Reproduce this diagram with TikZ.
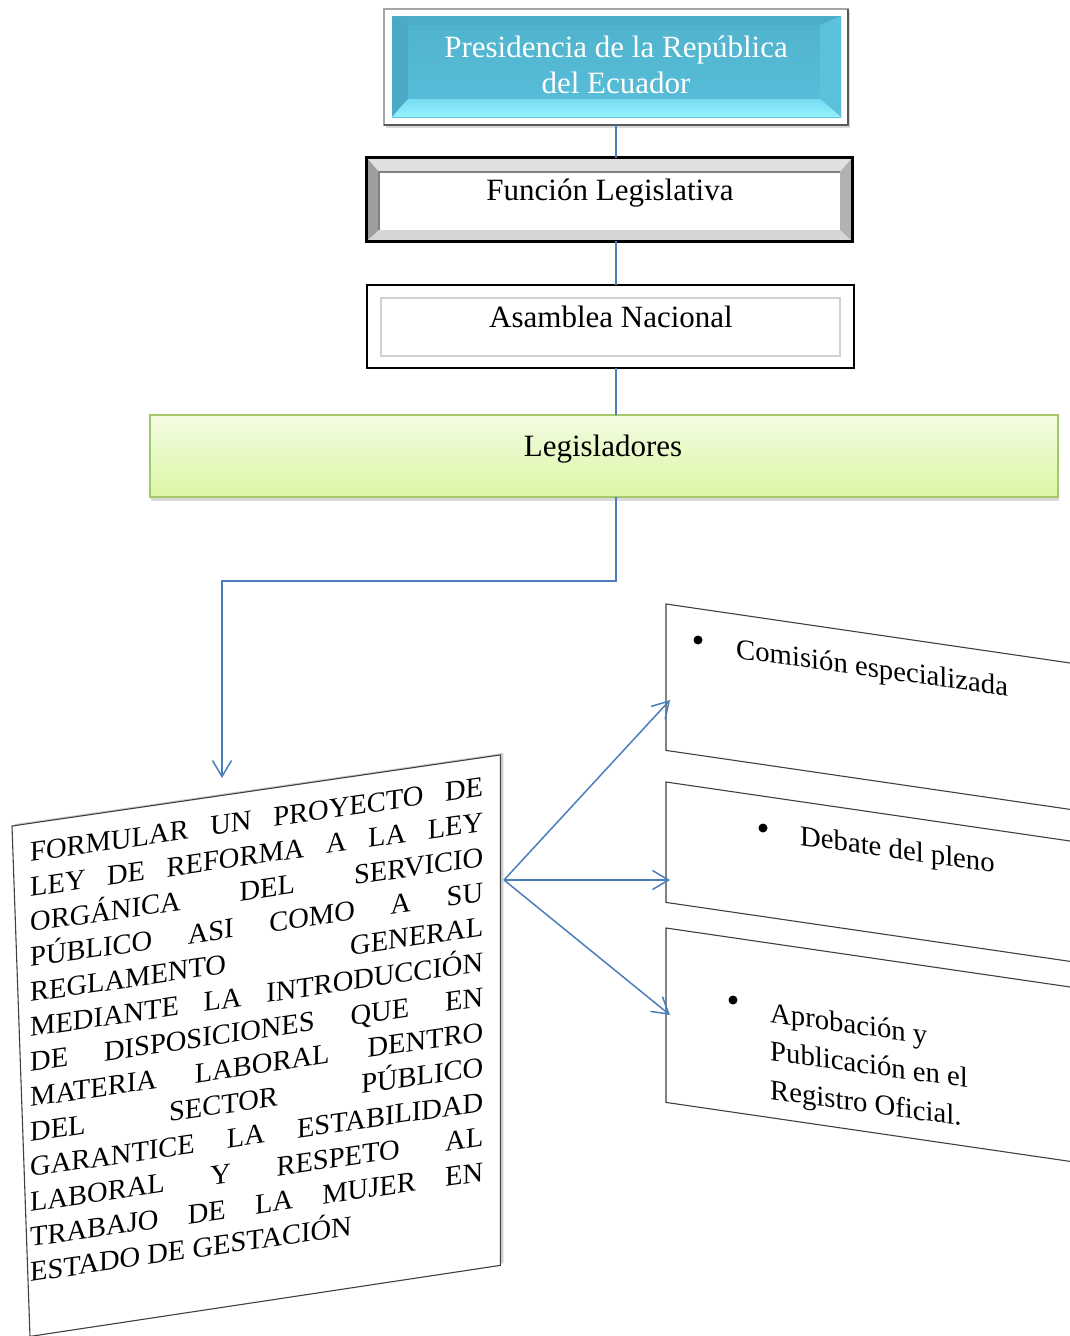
\documentclass[tikz,border=0pt]{standalone}
\usepackage{fontspec}
\setmainfont{Liberation Serif}
\usetikzlibrary{arrows.meta,shadows,calc}
\definecolor{connblue}{HTML}{4A7EBB}
\definecolor{lgTop}{HTML}{F3FBE2}
\definecolor{lgBot}{HTML}{DAF7A4}
\definecolor{lgBorder}{HTML}{A6C86C}
\definecolor{cyFace}{HTML}{50B3CE}
\definecolor{cyFaceB}{HTML}{58BED9}
\definecolor{cyTop}{HTML}{4DACC7}
\definecolor{cyLeft}{HTML}{4BA9C5}
\definecolor{cyRight}{HTML}{5CC2DB}
\definecolor{cyBotA}{HTML}{78DBF0}
\definecolor{cyBotB}{HTML}{95F3FF}
\begin{document}
\begin{tikzpicture}[x=1pt,y=-1pt,
  conn/.style={draw=connblue, line width=1.5pt},
  arr/.style={conn, -{Straight Barb[length=16pt,width=19pt]}},
  lbl/.style={inner sep=0pt, font=\fontsize{31}{36}\selectfont},
  leftline/.style={anchor=base west, inner sep=0pt, yslant=0.1455, font=\fontsize{28.5}{35}\selectfont},
  rtext/.style={anchor=base west, inner sep=0pt, yslant=-0.14, font=\fontsize{28.7}{35}\selectfont},
  dot/.style={circle, fill=black, inner sep=0pt, minimum size=9pt},
  rbox/.style={anchor=north west, inner sep=0pt, yslant=-0.146, minimum width=404pt},
  boxline/.style={draw=black!75, line width=1.1pt},
  plainbox/.style={inner sep=0pt}]
\useasboundingbox (0,0) rectangle (1070,1336);

% ---------- Presidencia ----------
\node (pres) [plainbox, minimum width=464pt, minimum height=116pt] at (616,67) {};
\path[fill=white, drop shadow={shadow xshift=2pt, shadow yshift=-3pt, opacity=0.3}]
  (pres.north west) rectangle (pres.south east);
\draw[black!35, line width=1.5pt] (pres.north west) rectangle (pres.south east);
\draw[black!65, line width=1.8pt] (pres.north east) -- (pres.south east) -- (pres.south west);
\shade[top color=cyFace, bottom color=cyFaceB] (392,16) rectangle (841,117);
\fill[cyTop]   (392,16) -- (841,16) -- (820,25) -- (408,25) -- cycle;
\fill[cyLeft]  (392,16) -- (408,25) -- (408,99) -- (392,117) -- cycle;
\fill[cyRight] (841,16) -- (820,25) -- (820,99) -- (841,117) -- cycle;
\shade[top color=cyBotA, bottom color=cyBotB] (392,117) -- (408,99) -- (820,99) -- (841,117) -- cycle;
\node (prestxt) [lbl, text=white, align=center] at (616,64.5) {Presidencia de la República\\del Ecuador};

% ---------- Funcion Legislativa ----------
\node (func) [plainbox, minimum width=485pt, minimum height=83pt] at (609.5,199.5) {};
\fill[black!12] (367,158) -- (852,158) -- (840,172) -- (379,172) -- cycle;
\fill[black!38] (367,158) -- (379,172) -- (379,230) -- (367,241) -- cycle;
\fill[black!16] (367,241) -- (379,230) -- (840,230) -- (852,241) -- cycle;
\fill[black!30] (852,158) -- (840,172) -- (840,230) -- (852,241) -- cycle;
\fill[white] (379,172) rectangle (840,230);
\draw[black!50, line width=1.2pt] (379,230) -- (379,172) -- (840,172);
\draw[black, line width=3pt] (func.north west) rectangle (func.south east);
\node (functxt) [lbl] at (610,193) {Función Legislativa};

% ---------- Asamblea Nacional ----------
\node (asam) [plainbox, minimum width=487pt, minimum height=83pt] at (610.5,326.5) {};
\draw[black, line width=2.5pt] (asam.north west) rectangle (asam.south east);
\draw[black!18, line width=1.5pt] (381,298) rectangle (840,356);
\node (asamtxt) [lbl] at (611,317) {Asamblea Nacional};

% ---------- Legisladores ----------
\node (leg) [plainbox, minimum width=908pt, minimum height=82pt] at (604,456) {};
\path[top color=lgTop, bottom color=lgBot, draw=lgBorder, line width=2pt,
  drop shadow={shadow xshift=1pt, shadow yshift=-4pt, opacity=0.3}]
  (leg.north west) rectangle (leg.south east);
\node (legtxt) [lbl] at (603,449) {Legisladores};

% ---------- vertical connectors ----------
\draw[conn] (pres.south) -- (pres.south |- func.north);
\draw[conn] (pres.south |- func.south) -- (pres.south |- asam.north);
\draw[conn] (pres.south |- asam.south) -- (pres.south |- leg.north);

% ---------- proposal box ----------
\node (prop) [plainbox, anchor=north west, yslant=0.1455, minimum width=488pt, minimum height=510pt] at (12,826) {};
\path[fill=white, draw=black!75, line width=1.1pt,
  drop shadow={shadow xshift=3pt, shadow yshift=2pt, opacity=0.4}]
  (prop.north west) -- (prop.north east) -- (prop.south east) -- ([xshift=18pt]prop.south west) -- cycle;

\coordinate (elbow) at (222,581);
\coordinate (arrtip) at (222,778);
\draw[arr] (pres.south |- leg.south) |- (elbow) -- (arrtip);

\node (l0)  [leftline] at (30,862) {\makebox[453pt][s]{FORMULAR UN PROYECTO DE}};
\node (l1)  [leftline] at (30,897) {\makebox[453pt][s]{LEY DE REFORMA A LA LEY}};
\node (l2)  [leftline] at (30,932) {\makebox[453pt][s]{ORGÁNICA DEL SERVICIO}};
\node (l3)  [leftline] at (30,967) {\makebox[453pt][s]{PÚBLICO ASI COMO A SU}};
\node (l4)  [leftline] at (30,1002) {\makebox[453pt][s]{REGLAMENTO GENERAL}};
\node (l5)  [leftline] at (30,1037) {\makebox[453pt][s]{MEDIANTE LA INTRODUCCIÓN}};
\node (l6)  [leftline] at (30,1072) {\makebox[453pt][s]{DE DISPOSICIONES QUE EN}};
\node (l7)  [leftline] at (30,1107) {\makebox[453pt][s]{MATERIA LABORAL DENTRO}};
\node (l8)  [leftline] at (30,1142) {\makebox[453pt][s]{DEL SECTOR PÚBLICO}};
\node (l9)  [leftline] at (30,1177) {\makebox[453pt][s]{GARANTICE LA ESTABILIDAD}};
\node (l10) [leftline] at (30,1212) {\makebox[453pt][s]{LABORAL Y RESPETO AL}};
\node (l11) [leftline] at (30,1247) {\makebox[453pt][s]{TRABAJO DE LA MUJER EN}};
\node (l12) [leftline] at (30,1282) {ESTADO DE GESTACIÓN};

% ---------- right boxes ----------
\node (b1) [rbox, minimum height=146pt] at (666,604) {};
\draw[boxline] (b1.north east) -- (b1.north west) -- (b1.south west) -- (b1.south east);
\node (b2) [rbox, minimum height=120pt] at (666,782) {};
\draw[boxline] (b2.north east) -- (b2.north west) -- (b2.south west) -- (b2.south east);
\node (b3) [rbox, minimum height=174pt] at (666,928) {};
\draw[boxline] (b3.north east) -- (b3.north west) -- (b3.south west) -- (b3.south east);

\node (d1) [dot] at (698,640) {};
\node (t1) [rtext] at (736,658) {Comisión especializada};
\node (d2) [dot] at (763,828) {};
\node (t2) [rtext] at (800,845) {Debate del pleno};
\node (d3) [dot] at (733,1000) {};
\node (t3a) [rtext] at (770,1022) {Aprobación y};
\node (t3b) [rtext] at (770,1060) {Publicación en el};
\node (t3c) [rtext] at (770,1099) {Registro Oficial.};

% ---------- fan arrows ----------
\coordinate (fan) at (504,880);
\coordinate (e1) at (670,700);
\coordinate (e2) at (670,880);
\coordinate (e3) at (670,1015);
\draw[arr] (fan) -- (e1);
\draw[arr] (fan) -- (e2);
\draw[arr] (fan) -- (e3);
\end{tikzpicture}
\end{document}
